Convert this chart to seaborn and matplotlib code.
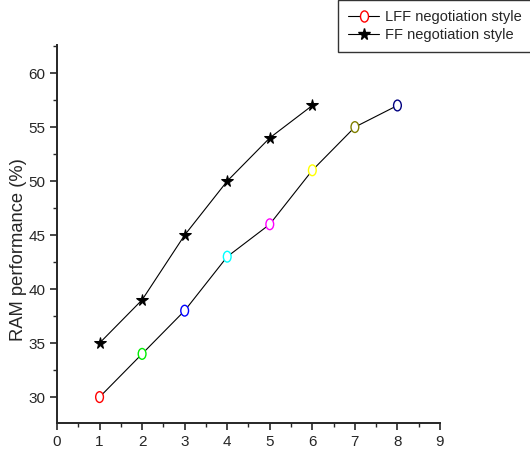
import matplotlib
matplotlib.use("Agg")
import matplotlib.pyplot as plt
import seaborn as sns
import numpy as np
import pandas as pd
from matplotlib.path import Path
from matplotlib.transforms import Affine2D
from matplotlib.ticker import MultipleLocator
from matplotlib.lines import Line2D

lff_x = [1, 2, 3, 4, 5, 6, 7, 8]
lff_y = [30, 34, 38, 43, 46, 51, 55, 57]
lff_colors = ["#ff0000", "#00ee00", "#0000ff", "#00ffff", "#ff00ff", "#ffff00", "#808000", "#000080"]
ff_x = [1, 2, 3, 4, 5, 6]
ff_y = [35, 39, 45, 50, 54, 57]
xticks = [0, 1, 2, 3, 4, 5, 6, 7, 8, 9]
yticks = [30, 35, 40, 45, 50, 55, 60]
ylabel = "RAM performance (%)"
labels = ["LFF negotiation style", "FF negotiation style"]

sns.set_style("ticks")
plt.rcParams["font.family"] = ["Liberation Sans", "DejaVu Sans"]

fig = plt.figure(figsize=(5.3, 4.53), dpi=100)
ax = fig.add_axes([57/530, 1-423/453, (440-57)/530, (423-45)/453])

ell = Path.unit_circle().transformed(Affine2D().scale(0.72, 1.0))

lff = pd.DataFrame({"x": lff_x, "y": lff_y, "c": [str(i) for i in range(len(lff_x))]})
ff = pd.DataFrame({"x": ff_x, "y": ff_y})

sns.lineplot(data=lff, x="x", y="y", color="black", lw=0.8, ax=ax)
sns.lineplot(data=ff, x="x", y="y", color="black", lw=0.8, marker="*", markersize=8.5,
             markeredgecolor="black", markerfacecolor="black", ax=ax)
sns.scatterplot(data=lff, x="x", y="y", hue="c", palette=lff_colors, marker=ell,
                s=60, legend=False, ax=ax, zorder=3)
coll = ax.collections[-1]
coll.set_edgecolors(lff_colors)
coll.set_facecolors("white")
coll.set_linewidth(1.0)

ax.set_xlim(0, 9)
ax.set_ylim(27.6, 62.6)
ax.set_xticks(xticks)
ax.set_yticks(yticks)
ax.xaxis.set_minor_locator(MultipleLocator(0.5))
ax.yaxis.set_minor_locator(MultipleLocator(2.5))
ax.tick_params(which="major", length=5, width=1.2, labelsize=11, direction="out")
ax.tick_params(which="minor", length=3, width=1.0, direction="out")
for s in ["top", "right"]:
    ax.spines[s].set_visible(False)
for s in ["left", "bottom"]:
    ax.spines[s].set_linewidth(1.4)
ax.set_xlabel("")
ax.set_ylabel(ylabel, fontsize=13.2)
ax.yaxis.set_label_coords(-(57 - 27) / 383, (423 - 250) / 378)

h1 = Line2D([], [], color="black", lw=0.8, marker=ell, markersize=8,
            markerfacecolor="white", markeredgecolor="red")
h2 = Line2D([], [], color="black", lw=0.8, marker="*", markersize=8.5)
leg = fig.legend([h1, h2], labels, loc="upper left", bbox_to_anchor=(338/530, 1.0),
                 frameon=True, fancybox=False, edgecolor="black", fontsize=10.5,
                 handlelength=2.1, handletextpad=0.4, borderpad=0.7, labelspacing=0.25,
                 borderaxespad=0)
leg.get_frame().set_linewidth(1.0)

fig.savefig("out.png", dpi=100)
